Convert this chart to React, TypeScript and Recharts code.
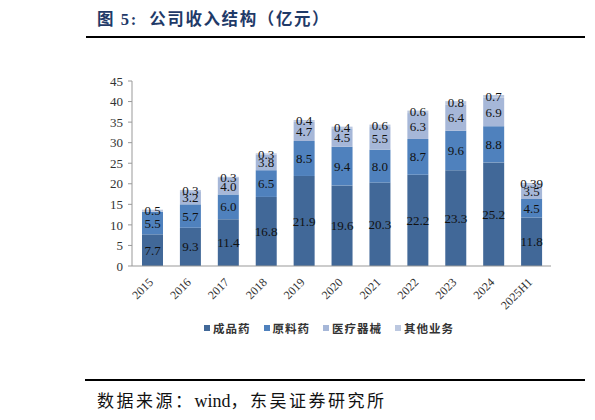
import { Bar, BarChart, LabelList, Legend, XAxis, YAxis } from "recharts";

// Revenue mix by business line, 100M CNY. 2015 had no device segment yet.
const YEARS = ["2015", "2016", "2017", "2018", "2019", "2020", "2021", "2022", "2023", "2024", "2025H1"];
const FINISHED = [7.7, 9.3, 11.4, 16.8, 21.9, 19.6, 20.3, 22.2, 23.3, 25.2, 11.8];
const API = [5.5, 5.7, 6.0, 6.5, 8.5, 9.4, 8.0, 8.7, 9.6, 8.8, 4.5];
const DEVICES = [null, 3.2, 4.0, 3.8, 4.7, 4.5, 5.5, 6.3, 6.4, 6.9, 3.5];
const OTHER = [0.5, 0.3, 0.3, 0.3, 0.4, 0.4, 0.6, 0.6, 0.8, 0.7, 0.39];
const Y_TICKS = [0, 5, 10, 15, 20, 25, 30, 35, 40, 45];

const SERIES = [
  { key: "finished", name: "成品药", color: "#416898" },
  { key: "api", name: "原料药", color: "#4f81bd" },
  { key: "devices", name: "医疗器械", color: "#a6b7d8" },
  { key: "other", name: "其他业务", color: "#bcc8e0" },
];

const rows = YEARS.map((year, i) => ({
  year,
  finished: FINISHED[i],
  api: API[i],
  devices: DEVICES[i],
  other: OTHER[i],
}));

const SERIF = "'Liberation Serif', 'Noto Sans CJK SC', serif";

// one decimal like the source, but keep 0.39 as is
function fmt(v: unknown) {
  if (typeof v !== "number") return "";
  const tenth = v * 10;
  return Math.abs(tenth - Math.round(tenth)) < 1e-6 ? v.toFixed(1) : String(v);
}

function YearTick(props: any) {
  const { x, y, payload } = props;
  return (
    <g transform={`translate(${x + 1},${y + 17})`}>
      <text textAnchor="end" transform="rotate(-45)" fontSize={12} fill="#333" fontFamily={SERIF}>
        {payload.value}
      </text>
    </g>
  );
}

function LegendRow() {
  return (
    <div
      style={{
        height: 20,
        width: 595,
        paddingLeft: 76,
        boxSizing: "border-box",
        display: "flex",
        justifyContent: "center",
        alignItems: "center",
      }}
    >
      {SERIES.map((s) => (
        <span key={s.key} style={{ display: "flex", alignItems: "center", marginRight: 13 }}>
          <span style={{ width: 6, height: 6, background: s.color, marginRight: 3 }} />
          <span
            style={{
              fontFamily: "'Noto Sans CJK SC', sans-serif",
              fontWeight: 700,
              fontSize: 11.5,
              letterSpacing: 1,
              color: "#333",
            }}
          >
            {s.name}
          </span>
        </span>
      ))}
    </div>
  );
}

export default function App() {
  return (
    <div
      style={{
        position: "absolute",
        left: 0,
        top: 0,
        width: 595,
        height: 420,
        background: "#fff",
        fontFamily: SERIF,
      }}
    >
      <div
        style={{
          position: "absolute",
          left: 97,
          top: 6,
          fontSize: 16.5,
          fontWeight: 700,
          letterSpacing: 1.6,
          color: "#1f3a68",
          fontFamily: SERIF,
          whiteSpace: "nowrap",
        }}
      >
        图 5:&nbsp;&nbsp;公司收入结构（亿元）
      </div>
      <div style={{ position: "absolute", left: 86, top: 36, width: 499, height: 2, background: "#000" }} />

      <div style={{ position: "absolute", left: 0, top: 0 }}>
        <BarChart width={595} height={345} data={rows} margin={{ top: 81, right: 44, left: 92, bottom: 7 }}>
          <YAxis
            width={40}
            domain={[0, 45]}
            ticks={Y_TICKS}
            interval={0}
            tickSize={4}
            tickMargin={5}
            axisLine={{ stroke: "#999" }}
            tickLine={{ stroke: "#999" }}
            tick={{ fontSize: 13, fill: "#333", fontFamily: SERIF }}
          />
          <XAxis
            dataKey="year"
            height={52}
            interval={0}
            tickSize={0}
            tickMargin={0}
            tickLine={false}
            padding={{ left: 2, right: 0 }}
            axisLine={{ stroke: "#999" }}
            tick={<YearTick />}
          />
          <Legend verticalAlign="bottom" wrapperStyle={{ left: 0, width: 595 }} content={<LegendRow />} />
          {SERIES.map((s) => (
            <Bar
              key={s.key}
              dataKey={s.key}
              name={s.name}
              stackId="rev"
              fill={s.color}
              barSize={21}
              isAnimationActive={false}
            >
              <LabelList
                dataKey={s.key}
                position="center"
                formatter={fmt}
                fontSize={13}
                fill="#111"
                fontFamily={SERIF}
              />
            </Bar>
          ))}
        </BarChart>
      </div>

      <div style={{ position: "absolute", left: 85, top: 379, width: 500, height: 2, background: "#000" }} />
      <div
        style={{
          position: "absolute",
          left: 97,
          top: 387,
          fontSize: 17,
          letterSpacing: 2.5,
          color: "#111",
          fontFamily: SERIF,
          whiteSpace: "nowrap",
        }}
      >
        数据来源：<span style={{ letterSpacing: 0, fontSize: 18 }}>wind</span>，东吴证券研究所
      </div>
    </div>
  );
}
